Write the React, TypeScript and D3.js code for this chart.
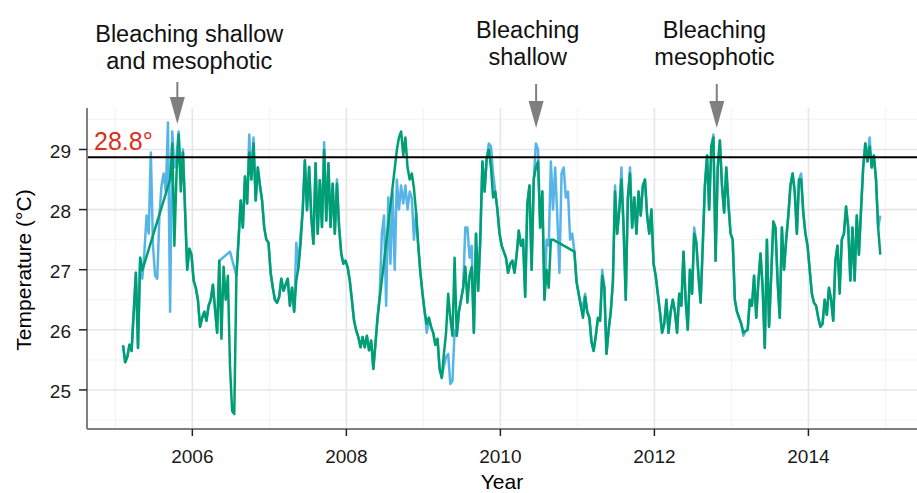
import React from "react";
import * as d3 from "d3";

// Time grid: first sample and spacing (years)
const START_YEAR = 2005.1;
const SAMPLES_PER_YEAR = 36;

// Mesophotic / logger series (green); null = missing sample (line bridges the gap)
const greenValues: (number | null)[] = [
  25.74, 25.46, 25.55, 25.75, 25.65, 26.3, 26.95, 25.7, 27.2, 26.99,
  null, null, null, null, null, null, null, null, null, null, null, null,
  28.5, 29.1, 27.4, 28.6, 29.25, 28.3, 28.95, 27.99, 27.0, 27.35,
  27.25, 26.82, 26.7, 26.5, 26.05, 26.2, 26.3, 26.15, 26.4, 26.5,
  26.75, 26.35, 25.95, 27.15, 25.85, 27.05, 26.5, 26.9, 25.4, 24.65,
  24.6, 26.9, 27.5, 28.15, 27.7, 28.55, 28.1, 28.95, 28.5, 29.1,
  28.15, 28.7, 28.4, 28.15, 27.7, 27.5, 27.45, 26.95, 26.7, 26.5,
  26.45, 26.55, 26.85, 26.65, 26.75, 26.85, 26.4, 26.7, 26.3, 26.82,
  27.04, 27.43, 27.99, 28.82, 27.99, 28.71, 27.88, 27.43, 28.77, 27.6,
  28.49, 27.71, 28.99, 27.82, 28.77, 27.71, 28.43, 27.6, 28.43, 27.71,
  27.27, 27.1, 27.15, 27.04, 26.82, 26.49, 26.15, 25.99, 25.88, 25.71,
  25.88, 25.71, 25.9, 25.66, 25.82, 25.35, 25.77, 26.21,
  null, null, null, null, null, null, null, null,
  28.99, 29.2, 29.3, 28.9, 29.2, 28.7, 28.5, 28.6, 28.35, 27.95,
  27.4, 26.95, 26.6, 26.3, 26.1, 26.2, 26.05, 25.95, 25.75, 25.85,
  25.35, 25.2, 25.6, 25.95, 26.6, 26.2, 25.9, 27.2, 25.9, 26.3,
  26.5, 26.7, 27.05, 26.45, 26.9, 27.05, 25.95, 27.6, 26.65, 27.5,
  28.8, 28.3, 28.85, 29.0, 28.7, 28.2, 28.3, 28.0, 27.6, 27.4,
  27.3, 27.2, 26.95, 27.1, 27.15, 26.95, 27.25, 27.65, 27.4, 27.5,
  26.55, 28.1, 28.4, 27.0, 28.5, 28.7, 28.8, 27.7, 28.3, 26.5,
  27.0, 26.7, 27.5, 27.5,
  null, null, null, null, null, null, null, null, null,
  27.3, 26.8, 26.6, 26.4, 26.2, 26.55, 26.3, 26.2, 25.8, 25.65,
  25.9, 26.2, 26.15, 26.9, 26.7, 25.6, 26.0, 26.3, 26.8, 28.3,
  27.6, 28.0, 28.5, 27.7, 26.5, 28.2, 28.6, 27.7, 28.2, 27.6,
  28.3, 27.9, 28.4, 28.5, 27.9, 27.6, 28.0, 27.1, 26.9, 26.6,
  26.3, 25.95, 26.1, 26.5, 25.95, 26.3, 26.5, 26.3, 25.95, 26.6,
  26.4, 27.3, 26.5, 26.0, 27.0, 26.6, 27.6, 27.45, 26.9, 26.45,
  27.4, 28.4, 28.9, 28.0, 29.05, 29.2, 27.15, 28.7, 29.15, 28.4,
  27.95, 28.7, 28.1, 27.6, 27.5, 26.5, 26.3, 26.2, 26.1, 25.95,
  25.98, 26.0, 26.5, 26.4, 26.9, 26.2, 26.8, 27.27, 26.7, 25.7,
  27.5, 26.05, 26.9, 27.8, 27.7, 26.8, 26.2, 27.7, 27.0, 27.5,
  27.9, 28.4, 28.6, 28.3, 27.6, 28.5, 28.5, 27.95, 27.6, 27.4,
  27.0, 26.6, 26.45, 26.4, 26.2, 26.05, 26.1, 26.5, 26.25, 26.7,
  26.5, 26.15, 27.15, 27.4, 26.6, 27.5, 27.6, 28.05, 27.7, 26.82,
  27.7, 26.82, 27.9, 27.25, 28.0, 28.7, 29.1, 28.8, 29.05, 28.7,
  28.9, 28.5, 27.7, 27.25,
];

// Shallow series (blue): same samples as green except at these indices
const blueDiffIndex: number[] = [
  9, 10, 11, 12, 13, 14, 15, 16, 17, 18, 19, 20, 21, 22, 23, 24, 25, 26, 27, 28,
  46, 47, 48, 49, 50, 51, 52, 59, 61, 81, 83, 94, 100,
  120, 121, 122, 123, 124, 125, 126, 127, 128, 129, 130, 131, 132, 133, 134, 135, 136,
  142, 150, 151, 152, 153, 154, 155, 160, 161, 162, 163, 171, 172, 173,
  193, 194, 198, 199, 200, 201, 202, 203, 204, 205, 206, 207, 208, 209, 210,
  215, 216, 224, 230, 233, 237, 267, 276, 290, 317, 335, 349, 354,
];
const blueDiffValue: (number | null)[] = [
  26.85, 27.3, 27.9, 27.6, 28.95, 27.4, 26.9, 26.85, 27.9, 28.4, 28.6, 28.3, 29.45, 26.3, 29.3, 28.7, 28.9, 29.3, 28.6, 29.0,
  null, null, null, null, 27.3, null, null, 29.25, 29.2, 27.45, 27.6, 29.12, 28.5,
  26.6, 27.6, 27.9, 26.4, 28.2, 27.1, 28.3, 27.0, 28.5, 28.0, 28.4, 28.1, 28.4, 28.0, 28.3, 28.2, 27.5,
  25.95, 25.4, 25.55, 25.6, 25.1, 25.15, 26.0, 27.7, 27.7, 27.2, 27.4, 29.1, 29.05, 28.6,
  29.1, 29.0, 27.5, 27.4, 28.8, 28.0, 28.7, 27.9, 26.95, 28.6, 28.7, 28.2, 28.3, 27.5, 27.6,
  26.4, 26.6, 27.0, 28.4, 28.7, 28.7, 27.7, 29.25, 25.9, 28.6, 26.7, 29.2, 27.9,
];

const yearTicks = [2006, 2008, 2010, 2012, 2014];
const yearMinor = [2005, 2007, 2009, 2011, 2013, 2015];
const tempTicks = [25, 26, 27, 28, 29];
const tempMinor = [24.5, 25.5, 26.5, 27.5, 28.5, 29.5];

const THRESHOLD = 28.87;
const THRESHOLD_LABEL = "28.8°";

const annotationLines: string[][] = [
  ["Bleaching shallow", "and mesophotic"],
  ["Bleaching", "shallow"],
  ["Bleaching", "mesophotic"],
];
const annotationArrowYear = [2005.805, 2010.464, 2012.81];
const annotationTextYear = [2005.96, 2010.355, 2012.78];

const FONT = "'Liberation Sans', Arial, Helvetica, sans-serif";

export default function App() {
  const W = 917;
  const H = 493;
  const left = 87;
  const right = 917;
  const top = 108;
  const bottom = 429;

  const x = d3.scaleLinear().domain([2004.632, 2015.41]).range([left, right]);
  const y = d3.scaleLinear().domain([24.35, 29.69]).range([bottom, top]);

  const time = (i: number) => START_YEAR + i / SAMPLES_PER_YEAR;

  const greenPts: [number, number][] = [];
  greenValues.forEach((v, i) => {
    if (v !== null) greenPts.push([time(i), v]);
  });

  const blueArr: (number | null)[] = greenValues.slice();
  blueDiffIndex.forEach((idx, k) => {
    blueArr[idx] = blueDiffValue[k];
  });
  const bluePts: [number, number][] = [];
  blueArr.forEach((v, i) => {
    if (v !== null) bluePts.push([time(i), v]);
  });

  const line = d3
    .line<[number, number]>()
    .x((d) => x(d[0]))
    .y((d) => y(d[1]));

  const greenCol = "#009E73";
  const blueCol = "#56B4E9";

  return (
    <div style={{ position: "absolute", left: 0, top: 0 }}>
      <svg width={W} height={H} style={{ display: "block", background: "#fff" }} fontFamily={FONT}>
        <defs>
          <clipPath id="panel">
            <rect x={left} y={top} width={right - left} height={bottom - top} />
          </clipPath>
        </defs>
        {/* minor grid */}
        {tempMinor.map((t) => (
          <line key={"ym" + t} x1={left} x2={right} y1={y(t)} y2={y(t)} stroke="#f4f4f4" strokeWidth={1.2} />
        ))}
        {yearMinor.map((t) => (
          <line key={"xm" + t} x1={x(t)} x2={x(t)} y1={top} y2={bottom} stroke="#f4f4f4" strokeWidth={1.2} />
        ))}
        {/* major grid */}
        {tempTicks.map((t) => (
          <line key={"yg" + t} x1={left} x2={right} y1={y(t)} y2={y(t)} stroke="#e6e6e6" strokeWidth={1.6} />
        ))}
        {yearTicks.map((t) => (
          <line key={"xg" + t} x1={x(t)} x2={x(t)} y1={top} y2={bottom} stroke="#e6e6e6" strokeWidth={1.6} />
        ))}

        <g clipPath="url(#panel)">
          <path d={line(bluePts) || ""} fill="none" stroke={blueCol} strokeWidth={2.5} strokeLinejoin="round" />
          <path d={line(greenPts) || ""} fill="none" stroke={greenCol} strokeWidth={2.5} strokeLinejoin="round" />
        </g>

        {/* threshold */}
        <line x1={left} x2={right} y1={y(THRESHOLD)} y2={y(THRESHOLD)} stroke="#000" strokeWidth={2} />
        <text x={94} y={150} fontSize={25} fill="#d7301f">
          {THRESHOLD_LABEL}
        </text>

        {/* axes lines */}
        <line x1={left} x2={left} y1={top} y2={bottom} stroke="#7f7f7f" strokeWidth={2} />
        <line x1={left} x2={right} y1={bottom} y2={bottom} stroke="#7f7f7f" strokeWidth={2} />

        {/* y ticks */}
        {tempTicks.map((t) => (
          <g key={"yt" + t}>
            <line x1={left - 8} x2={left} y1={y(t)} y2={y(t)} stroke="#222" strokeWidth={1.5} />
            <text x={71} y={y(t) + 8.5} fontSize={19} textAnchor="end" fill="#1a1a1a">
              {t}
            </text>
          </g>
        ))}
        {/* x ticks */}
        {yearTicks.map((t) => (
          <g key={"xt" + t}>
            <line x1={x(t)} x2={x(t)} y1={bottom} y2={bottom + 7} stroke="#222" strokeWidth={1.5} />
            <text x={x(t)} y={463} fontSize={19} textAnchor="middle" fill="#1a1a1a">
              {t}
            </text>
          </g>
        ))}

        {/* axis titles */}
        <text x={(left + right) / 2} y={489} fontSize={21} textAnchor="middle" fill="#000">
          Year
        </text>
        <text
          transform={`translate(31, ${270}) rotate(-90)`}
          fontSize={21}
          textAnchor="middle"
          fill="#000"
        >
          Temperature (°C)
        </text>

        {/* annotations */}
        {annotationLines.map((lines, k) => {
          const tx = x(annotationTextYear[k]);
          const ax = x(annotationArrowYear[k]);
          const base = k === 0 ? 41.5 : 37.5;
          const y0 = k === 0 ? 82 : 84;
          const tip = k === 0 ? 124 : 128;
          const headLen = 27;
          const headHalf = 7.5;
          return (
            <g key={"an" + k}>
              {lines.map((s, j) => (
                <text key={j} x={tx} y={base + j * 27} fontSize={23.5} textAnchor="middle" fill="#111">
                  {s}
                </text>
              ))}
              <line x1={ax} x2={ax} y1={y0} y2={tip - headLen + 2} stroke="#7f7f7f" strokeWidth={2} />
              <path
                d={`M${ax - headHalf},${tip - headLen} L${ax + headHalf},${tip - headLen} L${ax},${tip} Z`}
                fill="#7f7f7f"
              />
            </g>
          );
        })}
      </svg>
    </div>
  );
}
